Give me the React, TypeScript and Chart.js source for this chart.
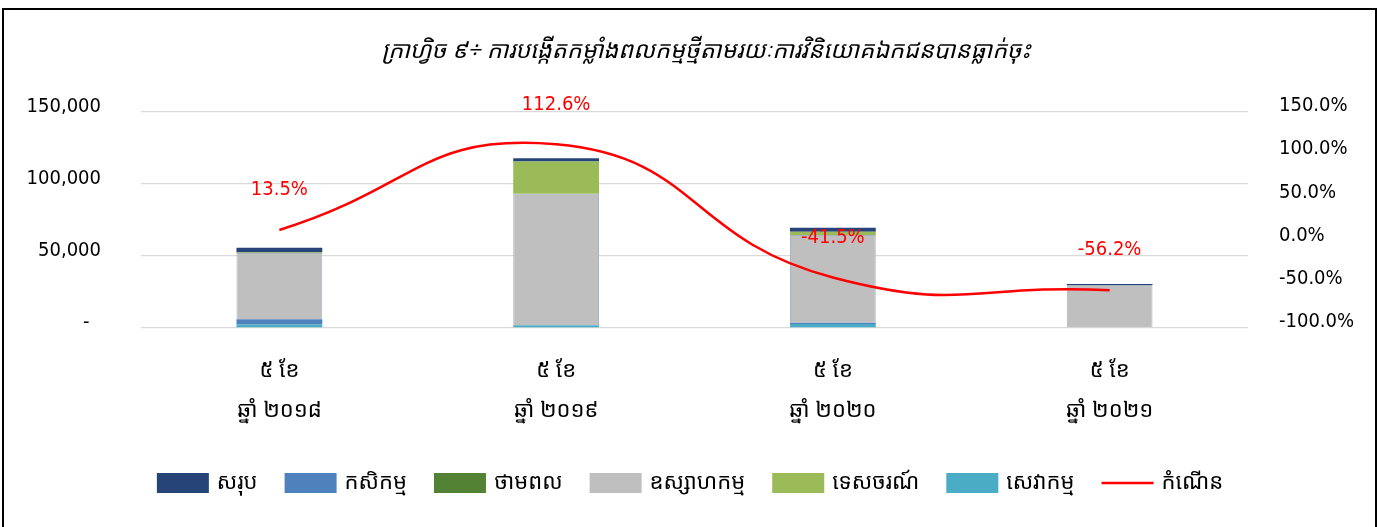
import React, { useEffect, useRef } from 'react';
import { Chart, registerables } from 'chart.js';

Chart.register(...registerables);

const TITLE = 'ក្រាហ្វិច ៩÷ ការបង្កើតកម្លាំងពលកម្មថ្មីតាមរយៈការវិនិយោគឯកជនបានធ្លាក់ចុះ';

const categories: string[][] = [
  ['៥ ខែ', 'ឆ្នាំ ២០១៨'],
  ['៥ ខែ', 'ឆ្នាំ ២០១៩'],
  ['៥ ខែ', 'ឆ្នាំ ២០២០'],
  ['៥ ខែ', 'ឆ្នាំ ២០២១'],
];

// stacked bar segments (bottom to top)
const services = [2500, 1900, 2800, 0];
const agriculture = [3500, 0, 900, 0];
const industry = [46000, 91400, 60900, 29800];
const tourism = [400, 22400, 2300, 0];
const energy = [300, 0, 0, 0];
const total = [3000, 2100, 2800, 700];

// growth rate (%)
const growth = [13.5, 112.6, -41.5, -56.2];

const leftTicks = [0, 50000, 100000, 150000];
const rightTicks = [-100, -50, 0, 50, 100, 150];

const NAMES = {
  total: 'សរុប',
  agriculture: 'កសិកម្ម',
  energy: 'ថាមពល',
  industry: 'ឧស្សាហកម្ម',
  tourism: 'ទេសចរណ៍',
  services: 'សេវាកម្ម',
  growth: 'កំណើន',
};

const COLORS = {
  total: '#264478',
  agriculture: '#4f81bd',
  energy: '#548235',
  industry: '#bfbfbf',
  tourism: '#9bbb59',
  services: '#4bacc6',
  growth: '#ff0000',
};

const NUM_FONT = '"DejaVu Sans Condensed", "DejaVu Sans", sans-serif';
const KH_FONT = '"Khmer OS System", "Khmer OS", "Noto Sans Khmer", "Noto Serif Khmer", "Khmer UI", "DejaVu Sans", sans-serif';

const legendOrder: (keyof typeof NAMES)[] = ['total', 'agriculture', 'energy', 'industry', 'tourism', 'services', 'growth'];

export default function App() {
  const ref = useRef<HTMLCanvasElement | null>(null);

  useEffect(() => {
    if (!ref.current) return;

    const overlay = {
      id: 'overlay',
      afterDraw(chart: any) {
        const ctx = chart.ctx as CanvasRenderingContext2D;
        ctx.save();
        // data labels for growth line
        const lineIdx = chart.data.datasets.length - 1;
        const meta = chart.getDatasetMeta(lineIdx);
        ctx.font = `20px ${NUM_FONT}`;
        ctx.fillStyle = COLORS.growth;
        ctx.textAlign = 'center';
        ctx.textBaseline = 'middle';
        meta.data.forEach((pt: any, i: number) => {
          ctx.fillText(growth[i].toFixed(1) + '%', pt.x, pt.y - 40);
        });
        // title
        ctx.font = `italic 23.5px ${KH_FONT}`;
        ctx.fillStyle = '#000';
        ctx.fillText(TITLE, 706, 51);
        // legend
        ctx.font = `22px ${KH_FONT}`;
        ctx.textAlign = 'left';
        const boxW = 52, boxH = 20, gapBT = 8, itemGap = 27;
        const widths = legendOrder.map((k) => boxW + gapBT + ctx.measureText(NAMES[k]).width);
        const totalW = widths.reduce((a, b) => a + b, 0) + itemGap * (widths.length - 1);
        let x = 690 - totalW / 2;
        const cy = 483;
        legendOrder.forEach((k, i) => {
          if (k === 'growth') {
            ctx.strokeStyle = COLORS.growth;
            ctx.lineWidth = 2.5;
            ctx.beginPath();
            ctx.moveTo(x, cy);
            ctx.lineTo(x + boxW, cy);
            ctx.stroke();
          } else {
            ctx.fillStyle = COLORS[k];
            ctx.fillRect(x, cy - boxH / 2, boxW, boxH);
          }
          ctx.fillStyle = '#000';
          ctx.fillText(NAMES[k], x + boxW + gapBT, cy);
          x += widths[i] + itemGap;
        });
        ctx.restore();
      },
    };

    const barCommon = {
      type: 'bar' as const,
      yAxisID: 'y',
      barPercentage: 0.31,
      categoryPercentage: 1,
      order: 1,
      borderWidth: 0,
    };

    const chart = new Chart(ref.current, {
      type: 'bar',
      data: {
        labels: categories,
        datasets: [
          { ...barCommon, label: NAMES.services, data: services, backgroundColor: COLORS.services },
          { ...barCommon, label: NAMES.agriculture, data: agriculture, backgroundColor: COLORS.agriculture },
          { ...barCommon, label: NAMES.industry, data: industry, backgroundColor: COLORS.industry, borderWidth: 1, borderColor: '#a8b2c1' },
          { ...barCommon, label: NAMES.tourism, data: tourism, backgroundColor: COLORS.tourism },
          { ...barCommon, label: NAMES.energy, data: energy, backgroundColor: COLORS.energy },
          { ...barCommon, label: NAMES.total, data: total, backgroundColor: COLORS.total },
          {
            type: 'line' as const,
            label: NAMES.growth,
            data: growth,
            yAxisID: 'y1',
            borderColor: COLORS.growth,
            borderWidth: 2.5,
            pointRadius: 0,
            tension: 0.5,
            order: 0,
            fill: false,
          } as any,
        ],
      },
      options: {
        responsive: false,
        animation: false,
        layout: { padding: { top: 112, left: 0, right: 0, bottom: 0 } },
        plugins: {
          legend: { display: false },
          title: { display: false },
          tooltip: { enabled: false },
        },
        scales: {
          x: {
            stacked: true,
            grid: { display: false, drawTicks: false },
            border: { display: false },
            ticks: {
              padding: 23,
              color: '#000',
              font: { family: KH_FONT, size: 22, lineHeight: 1.82 },
              maxRotation: 0,
              autoSkip: false,
            },
            afterFit(scale: any) {
              scale.height = 199;
              scale.paddingLeft = 0;
              scale.paddingRight = 0;
            },
          },
          y: {
            stacked: true,
            position: 'left',
            min: 0,
            max: 150000,
            afterBuildTicks(scale: any) {
              scale.ticks = leftTicks.map((v) => ({ value: v }));
            },
            grid: { color: '#d9d9d9', lineWidth: 1.3, drawTicks: false },
            border: { display: false },
            ticks: {
              padding: 40,
              labelOffset: -5,
              color: '#000',
              font: { family: NUM_FONT, size: 20 },
              callback: (v: any) => (Number(v) === 0 ? '-  ' : Number(v).toLocaleString('en-US')),
            },
            afterFit(scale: any) {
              scale.width = 141;
              scale.paddingTop = 0;
              scale.paddingBottom = 0;
            },
          },
          y1: {
            position: 'right',
            min: -100,
            max: 150,
            afterBuildTicks(scale: any) {
              scale.ticks = rightTicks.map((v) => ({ value: v }));
            },
            grid: { display: false, drawTicks: false },
            border: { display: false },
            ticks: {
              padding: 31,
              labelOffset: -6,
              color: '#000',
              font: { family: NUM_FONT, size: 20 },
              callback: (v: any) => Number(v).toFixed(1) + '%',
            },
            afterFit(scale: any) {
              scale.width = 130;
              scale.paddingTop = 0;
              scale.paddingBottom = 0;
            },
          },
        },
      },
      plugins: [overlay],
    });

    return () => chart.destroy();
  }, []);

  return (
    <div style={{ position: 'fixed', left: 0, top: 0, width: 1378, height: 527, background: '#fff' }}>
      <canvas ref={ref} width={1378} height={527} style={{ display: 'block' }} />
      <div
        style={{
          position: 'absolute',
          left: 2,
          top: 8,
          width: 1375,
          height: 600,
          border: '2px solid #000',
          boxSizing: 'border-box',
          pointerEvents: 'none',
        }}
      />
    </div>
  );
}
